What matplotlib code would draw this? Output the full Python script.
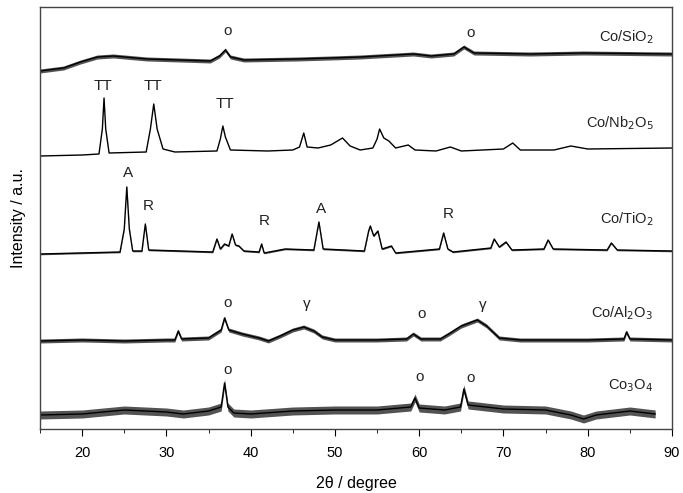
import matplotlib.pyplot as plt
from matplotlib.ticker import MultipleLocator

plt.rcParams['font.family'] = ['Liberation Sans', 'DejaVu Sans']

# XRD traces (2theta in degree, intensity in plot units, already stacked)
sio2_x = [15, 17.8, 19.8, 21.8, 23.7, 27.7, 31.6, 35.2, 36.3, 37.0, 37.6, 39.2, 45.5, 49.5,
          53, 59.3, 61.4, 64.1, 65.3, 66.5, 73.2, 79.5, 90]
sio2_y = [358, 361, 367, 372, 373, 370, 369, 368, 373, 379, 372, 369, 370, 371,
          372, 375, 373, 375, 382, 376, 375, 376, 375]

nb_x = [15, 20, 22.0, 22.4, 22.6, 22.8, 23.2, 27.6, 28.1, 28.5, 28.9, 29.6, 31, 36.0, 36.4,
        36.7, 37.0, 37.6, 42, 45, 45.8, 46.3, 46.7, 48, 49.5, 50.9, 51.8, 53, 54.5, 55.0,
        55.3, 55.8, 56.4, 57.2, 58.7, 59.5, 62, 63.7, 65, 70, 71.1, 72, 76, 78, 80, 90]
nb_y = [273, 274, 275, 300, 331, 300, 276, 277, 300, 325, 300, 280, 277, 278, 290,
        303, 292, 279, 278, 279, 282, 296, 282, 281, 284, 291, 283, 279, 281, 290,
        300, 291, 288, 281, 284, 279, 278, 282, 278, 280, 286, 279, 279, 283, 280, 281]

ti_x = [15, 24.5, 25.0, 25.3, 25.6, 26.0, 27.1, 27.5, 27.9, 35.5, 36.0, 36.4, 36.9, 37.4,
        37.8, 38.2, 38.6, 39.2, 41.0, 41.3, 41.6, 44.1, 47.5, 48.1, 48.6, 53.5, 54.0, 54.2,
        54.6, 55.1, 55.6, 56.7, 57.2, 62.4, 62.9, 63.4, 64.0, 68.5, 68.9, 69.5, 70.3, 71.0,
        74.8, 75.3, 75.9, 82.3, 82.8, 83.5, 90]
ti_y = [175, 177, 200, 242, 200, 178, 178, 205, 179, 177, 190, 180, 185, 183,
        195, 184, 183, 178, 177, 185, 176, 180, 179, 207, 180, 178, 198, 203,
        193, 198, 180, 183, 176, 180, 196, 180, 177, 181, 190, 182, 187, 179,
        180, 189, 180, 179, 186, 179, 178]

al_x = [15, 20, 25, 30, 31.0, 31.4, 31.8, 35, 36.5, 36.9, 37.4, 39, 41, 42.1, 43.5, 45,
        46.3, 47.5, 48.5, 50, 55, 58.5, 59.3, 60.2, 62.5, 63.5, 65, 66.9, 68, 69.5, 72,
        80, 84.3, 84.6, 85, 90]
al_y = [88, 89, 88, 89, 89, 98, 90, 91, 99, 111, 99, 95, 91, 88, 93, 99,
        102, 98, 92, 89, 89, 90, 95, 90, 90, 95, 103, 109, 103, 91, 89,
        89, 90, 97, 90, 89]

co_x = [15, 20, 25, 30, 32, 35, 36.5, 36.9, 37.3, 38, 40, 45, 50, 55, 59.0, 59.5, 60.0,
        63, 64.9, 65.3, 65.8, 70, 75, 78, 79.5, 81, 85, 88]
co_y = [14, 15, 19, 17, 15, 18, 22, 46, 22, 16, 15, 18, 19, 19, 22, 31, 21,
        19, 22, 40, 24, 20, 19, 14, 10, 14, 18, 15]

fig = plt.figure(figsize=(6.83, 4.93), dpi=100)
ax = fig.add_axes([40 / 683, 64 / 493, 632 / 683, 422 / 493])

# (x, y, noise half-width in plot units)
traces = [(sio2_x, sio2_y, 2.0), (nb_x, nb_y, 0.0), (ti_x, ti_y, 0.8),
          (al_x, al_y, 2.0), (co_x, co_y, 4.0)]
for xs, ys, noise in traces:
    if noise > 0:
        lo = [v - noise for v in ys]
        hi = [v + noise for v in ys]
        ax.fill_between(xs, lo, hi, color='#1a1a1a', alpha=0.75, linewidth=0)
    ax.plot(xs, ys, color='black', linewidth=1.0)

# sample names
names = [('Co/SiO$_2$', 392), ('Co/Nb$_2$O$_5$', 306), ('Co/TiO$_2$', 210),
         ('Co/Al$_2$O$_3$', 116), ('Co$_3$O$_4$', 43)]
for name, yy in names:
    ax.text(87.8, yy, name, ha='right', va='center', fontsize=10.5, color='#222222')

# phase markers
markers = [('o', 37.2, 398), ('o', 66.1, 396),
           ('TT', 22.5, 343), ('TT', 28.4, 343), ('TT', 37.0, 325),
           ('A', 25.4, 256), ('R', 27.8, 223), ('R', 41.6, 208), ('A', 48.3, 220), ('R', 63.5, 215),
           ('o', 37.2, 126), ('\u03b3', 46.7, 125), ('o', 60.3, 115), ('\u03b3', 67.6, 124),
           ('o', 37.2, 59), ('o', 60.0, 52), ('o', 66.1, 51)]
for txt, xx, yy in markers:
    ax.text(xx, yy, txt, ha='center', va='center', fontsize=11, color='#222222')

ax.set_xlim(15, 90)
ax.set_ylim(0, 422)
ax.set_yticks([])
ax.xaxis.set_major_locator(MultipleLocator(10))
ax.xaxis.set_minor_locator(MultipleLocator(5))
ax.tick_params(axis='x', which='major', direction='out', length=5, labelsize=10.5, pad=7)
ax.tick_params(axis='x', which='minor', direction='out', length=3)
for s in ax.spines.values():
    s.set_color('#444444')
    s.set_linewidth(1.0)

ax.set_xlabel('2\u03b8 / degree', fontsize=11.5, labelpad=12)
ax.set_ylabel('Intensity / a.u.', fontsize=11.5, labelpad=10)

fig.savefig('out.png', dpi=100)
